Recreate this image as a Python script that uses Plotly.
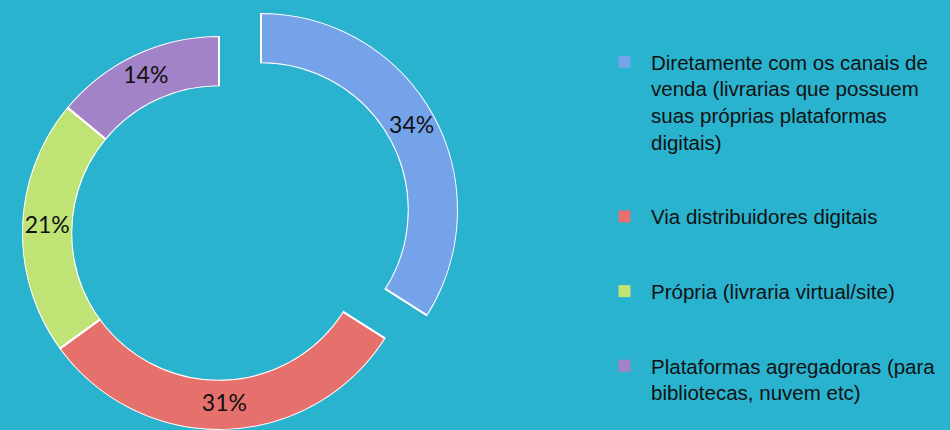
import plotly.graph_objects as go

# Canais de venda de e-books: participação de cada canal
categories = [
    "Diretamente com os canais de<br>venda (livrarias que possuem<br>suas próprias plataformas<br>digitais)",
    "Via distribuidores digitais",
    "Própria (livraria virtual/site)",
    "Plataformas agregadoras (para<br>bibliotecas, nuvem etc)",
]
shares = [34, 31, 21, 14]
colors = ["#74A3EA", "#E6706C", "#BFE375", "#A383C8"]
pulled = [True, False, False, False]

BG = "#2AB3CF"

total = sum(shares)
spans = [s / total * 360 for s in shares]
starts = [sum(spans[:i]) for i in range(len(spans))]
mids = [st + sp / 2 for st, sp in zip(starts, spans)]

fig = go.Figure()

# ring segments (the exploded one lives in its own, shifted polar subplot)
for i, cat in enumerate(categories):
    fig.add_trace(go.Barpolar(
        r=[1], theta=[mids[i]], width=[spans[i]],
        name=cat, legendgroup=f"g{i}",
        marker=dict(color=colors[i], line=dict(width=0)),
        subplot="polar2" if pulled[i] else "polar",
        hoverinfo="skip",
    ))

# white outlines around every segment
for sub, flag in (("polar", False), ("polar2", True)):
    idx = [i for i in range(len(shares)) if pulled[i] == flag]
    fig.add_trace(go.Barpolar(
        r=[1] * len(idx), theta=[mids[i] for i in idx], width=[spans[i] for i in idx],
        marker=dict(color="rgba(0,0,0,0)", line=dict(color="white", width=2)),
        subplot=sub, showlegend=False, hoverinfo="skip",
    ))

# percentage labels at the middle of each segment
for sub, flag in (("polar", False), ("polar2", True)):
    idx = [i for i in range(len(shares)) if pulled[i] == flag]
    fig.add_trace(go.Scatterpolar(
        r=[0.5] * len(idx), theta=[mids[i] for i in idx],
        text=[f"{shares[i]}%" for i in idx], mode="text",
        textfont=dict(family="Lato", size=23, color="#111111"),
        subplot=sub, showlegend=False, hoverinfo="skip",
    ))

W, H = 950, 430
R = 197
cx, cy = 219, 233          # ring centre (px from top-left)
dx, dy = 42, -23           # offset of the exploded segment


def dom(x0, y0):
    return dict(
        x=[(x0 - R) / W, (x0 + R) / W],
        y=[(H - y0 - R) / H, (H - y0 + R) / H],
    )


polar_common = dict(
    hole=0.745,
    bgcolor="rgba(0,0,0,0)",
    barmode="overlay",
    radialaxis=dict(range=[0, 1], visible=False),
    angularaxis=dict(rotation=90, direction="clockwise", visible=False),
)

fig.update_layout(
    width=W, height=H,
    margin=dict(l=0, r=0, t=0, b=0),
    paper_bgcolor=BG, plot_bgcolor=BG,
    polar=dict(domain=dom(cx, cy), **polar_common),
    polar2=dict(domain=dom(cx + dx, cy + dy), **polar_common),
    showlegend=True,
    legend=dict(
        x=598 / W, xanchor="left", y=1 - 42 / H, yanchor="top",
        font=dict(family="Liberation Sans", size=20.5, color="#111111"),
        itemwidth=43, tracegroupgap=45, valign="top",
        bgcolor="rgba(0,0,0,0)",
    ),
)

fig.write_html("out.html")
